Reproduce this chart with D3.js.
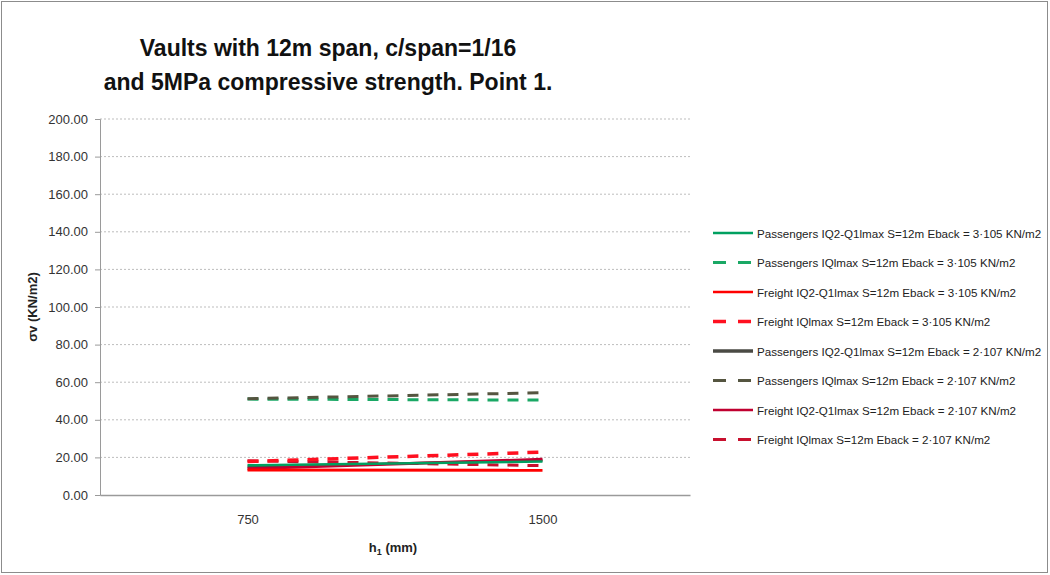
<!DOCTYPE html>
<html><head><meta charset="utf-8">
<script src="https://cdn.jsdelivr.net/npm/d3@7"></script>
<style>body{margin:0;background:#fff;} text{font-family:"Liberation Sans",sans-serif;}</style>
</head><body><svg id="c" width="1050" height="575"></svg>
<script>
const categories = ["750", "1500"];
const yTicks = [0, 20, 40, 60, 80, 100, 120, 140, 160, 180, 200];
const seriesNames = [
  "Passengers IQ2-Q1lmax S=12m Eback = 3·105 KN/m2",
  "Passengers IQlmax S=12m Eback = 3·105 KN/m2",
  "Freight IQ2-Q1lmax S=12m Eback = 3·105 KN/m2",
  "Freight IQlmax S=12m Eback = 3·105 KN/m2",
  "Passengers IQ2-Q1lmax S=12m Eback = 2·107 KN/m2",
  "Passengers IQlmax S=12m Eback = 2·107 KN/m2",
  "Freight IQ2-Q1lmax S=12m Eback = 2·107 KN/m2",
  "Freight IQlmax S=12m Eback = 2·107 KN/m2"
];
const passSolid3e5 = [15.8, 17.8];
const passDash3e5 = [51.0, 50.5];
const freightSolid3e5 = [13.3, 13.1];
const freightDash3e5 = [17.8, 22.8];
const passSolid2e7 = [15.0, 18.4];
const passDash2e7 = [51.2, 54.4];
const freightSolid2e7 = [14.0, 19.0];
const freightDash2e7 = [18.2, 15.6];
const seriesValues = [passSolid3e5, passDash3e5, freightSolid3e5, freightDash3e5,
                      passSolid2e7, passDash2e7, freightSolid2e7, freightDash2e7];
const seriesColors = ["#00a060", "#1aa865", "#ff0000", "#ff1020", "#4a4a44", "#555540", "#c00030", "#c8102e"];
const seriesDashed = [false, true, false, true, false, true, false, true];
const seriesWidth = [2.5, 3, 2.5, 3.5, 3.5, 3, 2.5, 3];
const plotWidth = [2.5, 3, 3, 3.5, 2.5, 3, 3, 3];
const drawOrder = [4, 1, 5, 7, 3, 6, 0, 2];

const svg = d3.select("#c");
svg.append("rect").attr("x", 1.5).attr("y", 1.5).attr("width", 1046).attr("height", 571)
  .attr("fill", "#fff").attr("stroke", "#8c8c8c").attr("stroke-width", 1);

const L = 100, R = 690, T = 119, B = 495;
const x = d3.scalePoint().domain(categories).range([L, R]).padding(0.5);
const y = d3.scaleLinear().domain([0, 200]).range([B, T]);

// gridlines
svg.append("g").selectAll("line").data(yTicks.filter(d => d > 0)).join("line")
  .attr("x1", L).attr("x2", R).attr("y1", d => y(d)).attr("y2", d => y(d))
  .attr("stroke", "#bdbdbd").attr("stroke-width", 1).attr("stroke-dasharray", "2,2");

// y axis
const yAxis = svg.append("g").attr("transform", `translate(${L},0)`)
  .call(d3.axisLeft(y).tickValues(yTicks).tickFormat(d3.format(".2f")).tickSize(5).tickPadding(7));
yAxis.select(".domain").attr("stroke", "#9a9a9a");
yAxis.selectAll(".tick line").attr("stroke", "#9a9a9a");
yAxis.selectAll("text").attr("font-size", 13).attr("fill", "#333")
  .style("font-family", "'Liberation Sans',sans-serif");

// x axis
const xAxis = svg.append("g").attr("transform", `translate(0,${B})`)
  .call(d3.axisBottom(x).tickSize(0).tickPadding(20));
xAxis.select(".domain").attr("stroke", "#9a9a9a").attr("stroke-width", 1.5);
xAxis.selectAll("text").attr("font-size", 13).attr("fill", "#333")
  .style("font-family", "'Liberation Sans',sans-serif");

// lines
const line = d3.line().x((d, i) => x(categories[i])).y(d => y(d));
drawOrder.forEach(i => {
  svg.append("path").datum(seriesValues[i]).attr("d", line)
    .attr("fill", "none").attr("stroke", seriesColors[i]).attr("stroke-width", plotWidth[i])
    .attr("stroke-dasharray", seriesDashed[i] ? "11,9" : null);
});

// title
const title = svg.append("text").attr("x", 328).attr("y", 56).attr("text-anchor", "middle")
  .attr("font-size", 23).attr("font-weight", "bold").attr("fill", "#111");
title.append("tspan").attr("x", 328).attr("dy", 0).text("Vaults with 12m span, c/span=1/16");
title.append("tspan").attr("x", 328).attr("dy", 34).text("and 5MPa compressive strength. Point 1.");

// y label
svg.append("text").attr("transform", "translate(37,307) rotate(-90)").attr("text-anchor", "middle")
  .attr("font-size", 13).attr("font-weight", "bold").attr("fill", "#222").text("σv (KN/m2)");

// x label
const xl = svg.append("text").attr("x", 393).attr("y", 552).attr("text-anchor", "middle")
  .attr("font-size", 13).attr("font-weight", "bold").attr("fill", "#222");
xl.append("tspan").text("h");
xl.append("tspan").attr("font-size", 9).attr("dy", 3).text("1");
xl.append("tspan").attr("dy", -3).text(" (mm)");

// legend
const lg = svg.append("g");
seriesNames.forEach((name, i) => {
  const yy = 233 + i * 29.5;
  lg.append("line").attr("x1", 713).attr("x2", 753).attr("y1", yy).attr("y2", yy)
    .attr("stroke", seriesColors[i]).attr("stroke-width", seriesWidth[i])
    .attr("stroke-dasharray", seriesDashed[i] ? "13,12" : null);
  lg.append("text").attr("x", 757).attr("y", yy + 4.5).attr("font-size", 11.6).attr("fill", "#222").text(name);
});
</script></body></html>
